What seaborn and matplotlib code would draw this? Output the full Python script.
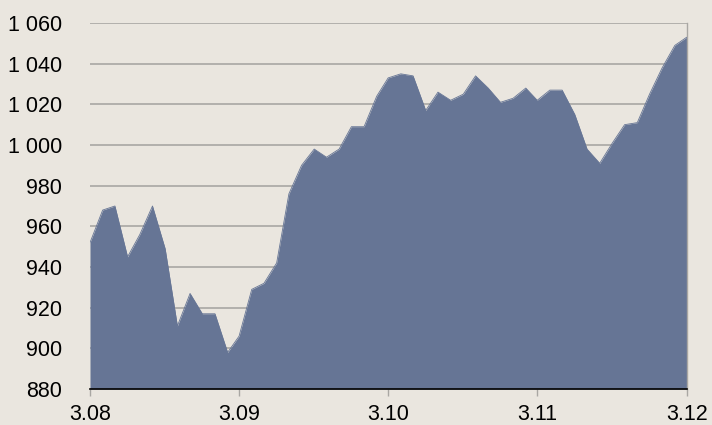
import pandas as pd
import numpy as np
import matplotlib
matplotlib.use("Agg")
import matplotlib.pyplot as plt
import seaborn as sns

#%% DATOS
# valores mensuales, marzo 2008 - marzo 2012
valores = [952, 968, 970, 945, 956, 970, 949, 911, 927, 917,
           917, 898, 906, 929, 932, 942, 976, 990, 998, 994,
           998, 1009, 1009, 1024, 1033, 1035, 1034, 1017, 1026, 1022,
           1025, 1034, 1028, 1021, 1023, 1028, 1022, 1027, 1027, 1015,
           998, 991, 1001, 1010, 1011, 1025, 1038, 1049, 1053]
meses = pd.date_range("2008-03-01", periods=len(valores), freq="MS")
etiquetas_x = ["3.08", "3.09", "3.10", "3.11", "3.12"]
ticks_y = [880, 900, 920, 940, 960, 980, 1000, 1020, 1040, 1060]

df = pd.DataFrame({"mes": meses, "valor": valores})

fondo = "#EAE6DF"
relleno = "#667595"

#%% GRAFICO
sns.set_theme(style="white")
plt.rcParams["font.family"] = ["Liberation Sans", "DejaVu Sans"]

fig = plt.figure(figsize=(7.12, 4.25), dpi=100, facecolor=fondo)
ax = fig.add_axes([90 / 712, 36 / 425, 596.7 / 712, 366 / 425])
ax.set_facecolor(fondo)

ax.fill_between(df["mes"], df["valor"], 880, color=relleno, lw=0, zorder=2)
sns.lineplot(data=df, x="mes", y="valor", color=relleno, lw=0.6, ax=ax, zorder=3)

ax.set_xlim(meses[0], meses[-1])
ax.set_ylim(880, 1060)

ticks_x = [meses[0], meses[12], meses[24], meses[36], meses[48]]
ax.set_xticks(ticks_x)
ax.set_xticklabels(etiquetas_x)
ax.set_yticks(ticks_y)
ax.set_yticklabels([f"{v:,}".replace(",", " ") for v in ticks_y])

ax.grid(axis="y", color="#A9A7A3", lw=1.2, zorder=1)
ax.grid(axis="x", visible=False)

for s in ["top", "left"]:
    ax.spines[s].set_visible(False)
ax.spines["bottom"].set_color("black")
ax.spines["bottom"].set_linewidth(1.2)
ax.spines["bottom"].set_zorder(4)
ax.spines["right"].set_color("#A9A7A3")
ax.spines["right"].set_linewidth(1.0)

ax.tick_params(axis="x", bottom=True, length=5, width=1, color="#A9A7A3",
               pad=6, labelsize=15.5, labelcolor="black")
ax.tick_params(axis="y", left=False, pad=14, labelsize=15.5, labelcolor="black")

ax.set_xlabel("")
ax.set_ylabel("")

plt.savefig("out.png", dpi=100, facecolor=fondo)
